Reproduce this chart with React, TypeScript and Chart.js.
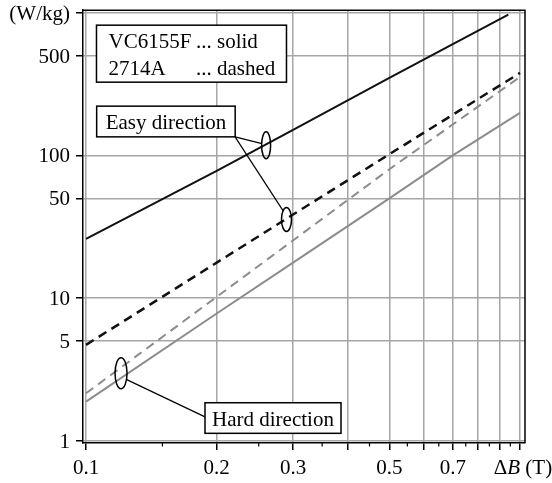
import { useEffect, useRef } from 'react';
import { Chart, registerables } from 'chart.js';

Chart.register(...registerables);

// Core loss (W/kg) against flux swing ΔB (T), log-log.
// Easy direction, VC6155F (solid black)
const easyVcB = [0.1, 0.2, 0.3, 0.5, 0.94];
const easyVcLoss = [26, 78, 151, 350, 970];
// Easy direction, 2714A (dashed black)
const easy2714B = [0.1, 0.3, 0.5, 1.0];
const easy2714Loss = [4.7, 38.5, 102, 379];
// Hard direction, 2714A (dashed grey)
const hard2714B = [0.1, 0.2, 0.5, 1.0];
const hard2714Loss = [2.15, 10.2, 80, 355];
// Hard direction, VC6155F (solid grey)
const hardVcB = [0.1, 0.2, 0.3, 0.5, 0.7, 1.0];
const hardVcLoss = [1.88, 7.8, 17.7, 50, 100, 199];

const xTickValues = [0.1, 0.2, 0.3, 0.4, 0.5, 0.6, 0.7, 0.8, 0.9, 1.0];
const xTickLabels = ['0.1', '0.2', '0.3', '', '0.5', '', '0.7', '', '', ''];
const xMinorTicks = [0.15, 0.25, 0.35, 0.45, 0.55, 0.65, 0.75, 0.85, 0.95];
const yTickValues = [1, 5, 10, 50, 100, 500, 1000];
const yTickLabels = ['1', '5', '10', '50', '100', '500', '(W/kg)'];

const FONT = '21px "Liberation Serif", "Times New Roman", serif';
const ITALIC = 'italic 21px "Liberation Serif", "Times New Roman", serif';
const GREY = '#8c8c8c';
const GRID = '#a6a6a6';

const toPoints = (xs: number[], ys: number[]) => xs.map((x, i) => ({ x, y: ys[i] }));

// Callout boxes: top-left corner in data units, size and text offsets in px
const boxes = [
  {
    x: 0.1057, y: 819, w: 190, h: 57,
    texts: [
      { dx: 12, dy: 23, t: 'VC6155F' }, { dx: 99.5, dy: 23, t: '... solid' },
      { dx: 12, dy: 50, t: '2714A' }, { dx: 99.5, dy: 50, t: '... dashed' },
    ],
  },
  { x: 0.1058, y: 221.6, w: 138.5, h: 30.7, texts: [{ dx: 9, dy: 22.5, t: 'Easy direction' }] },
  { x: 0.188, y: 1.846, w: 136, h: 30.6, texts: [{ dx: 7, dy: 23, t: 'Hard direction' }] },
];

// Ellipses ringing the curves, centre in data units, radii in px
const rings = [
  { x: 0.26, y: 118, rx: 4.5, ry: 13.5 },
  { x: 0.2897, y: 35.6, rx: 5, ry: 12 },
  { x: 0.1204, y: 2.97, rx: 6, ry: 15.5 },
];

// Leader lines from callouts to the rings, in data units
const leaders = [
  [[0.2205, 135], [0.2543, 121]],
  [[0.2205, 135], [0.2849, 40.7]],
  [[0.1241, 2.68], [0.188, 1.47]],
];

const decorations = {
  id: 'decorations',
  afterDraw(chart: any) {
    const ctx: CanvasRenderingContext2D = chart.ctx;
    const xs = chart.scales.x;
    const ys = chart.scales.y;
    const a = chart.chartArea;
    const px = (v: number) => xs.getPixelForValue(v);
    const py = (v: number) => ys.getPixelForValue(v);
    ctx.save();

    // top and right frame
    ctx.strokeStyle = '#000';
    ctx.lineWidth = 1.5;
    ctx.beginPath();
    ctx.moveTo(a.left, a.top);
    ctx.lineTo(a.right, a.top);
    ctx.lineTo(a.right, a.bottom);
    ctx.stroke();

    // minor x ticks
    ctx.lineWidth = 1.2;
    xMinorTicks.forEach((v) => {
      const x = px(v);
      ctx.beginPath();
      ctx.moveTo(x, a.bottom);
      ctx.lineTo(x, a.bottom + 3.5);
      ctx.stroke();
    });

    // tick labels
    ctx.fillStyle = '#000';
    ctx.font = FONT;
    ctx.textBaseline = 'alphabetic';
    ctx.textAlign = 'center';
    xTickValues.forEach((v, i) => {
      if (xTickLabels[i]) ctx.fillText(xTickLabels[i], px(v), a.bottom + 30.5);
    });
    ctx.textAlign = 'right';
    yTickValues.forEach((v, i) => {
      ctx.fillText(yTickLabels[i], a.left - 13, py(v) + 7);
    });

    // ΔB (T) axis label at the end of the x axis
    ctx.textAlign = 'left';
    const parts = [
      { t: 'Δ', f: FONT },
      { t: 'B', f: ITALIC },
      { t: ' (T)', f: FONT },
    ];
    let total = 0;
    parts.forEach((p) => { ctx.font = p.f; total += ctx.measureText(p.t).width; });
    let cx = px(1.0) - total / 2 + 3;
    parts.forEach((p) => {
      ctx.font = p.f;
      ctx.fillText(p.t, cx, a.bottom + 30.5);
      cx += ctx.measureText(p.t).width;
    });

    // leader lines
    ctx.lineWidth = 1.2;
    leaders.forEach(([p0, p1]) => {
      ctx.beginPath();
      ctx.moveTo(px(p0[0]), py(p0[1]));
      ctx.lineTo(px(p1[0]), py(p1[1]));
      ctx.stroke();
    });

    // rings
    ctx.lineWidth = 1.5;
    rings.forEach((r) => {
      ctx.beginPath();
      ctx.ellipse(px(r.x), py(r.y), r.rx, r.ry, 0, 0, Math.PI * 2);
      ctx.stroke();
    });

    // callout boxes
    ctx.font = FONT;
    ctx.textAlign = 'left';
    boxes.forEach((b) => {
      const x0 = px(b.x);
      const y0 = py(b.y);
      ctx.fillStyle = '#fff';
      ctx.fillRect(x0, y0, b.w, b.h);
      ctx.lineWidth = 1.5;
      ctx.strokeStyle = '#000';
      ctx.strokeRect(x0, y0, b.w, b.h);
      ctx.fillStyle = '#000';
      b.texts.forEach((t) => ctx.fillText(t.t, x0 + t.dx, y0 + t.dy));
    });

    ctx.restore();
  },
};

export default function App() {
  const canvasRef = useRef<HTMLCanvasElement | null>(null);

  useEffect(() => {
    const canvas = canvasRef.current;
    if (!canvas) return;
    const chart = new Chart(canvas, {
      type: 'line',
      data: {
        datasets: [
          {
            label: 'VC6155F easy',
            data: toPoints(easyVcB, easyVcLoss),
            borderColor: '#111',
            borderWidth: 2,
            pointRadius: 0,
          },
          {
            label: '2714A easy',
            data: toPoints(easy2714B, easy2714Loss),
            borderColor: '#111',
            borderWidth: 2.5,
            borderDash: [9, 6],
            pointRadius: 0,
          },
          {
            label: '2714A hard',
            data: toPoints(hard2714B, hard2714Loss),
            borderColor: GREY,
            borderWidth: 2,
            borderDash: [9, 6],
            pointRadius: 0,
          },
          {
            label: 'VC6155F hard',
            data: toPoints(hardVcB, hardVcLoss),
            borderColor: GREY,
            borderWidth: 2,
            pointRadius: 0,
          },
        ],
      },
      options: {
        responsive: false,
        animation: false,
        devicePixelRatio: 1,
        events: [],
        layout: { padding: { top: 10, right: 27, left: 0, bottom: 0 } },
        plugins: { legend: { display: false }, tooltip: { enabled: false } },
        scales: {
          x: {
            type: 'logarithmic',
            min: 0.0984,
            max: 1.027,
            afterBuildTicks: (s: any) => { s.ticks = xTickValues.map((value) => ({ value })); },
            afterFit: (s: any) => { s.height = 40; },
            ticks: { autoSkip: false, maxRotation: 0, minRotation: 0, callback: () => '' },
            grid: { color: GRID, lineWidth: 1.5, tickColor: '#000', tickLength: 7, tickWidth: 1.5 },
            border: { display: true, color: '#000', width: 1.5 },
          },
          y: {
            type: 'logarithmic',
            min: 0.9636,
            max: 1043,
            afterBuildTicks: (s: any) => { s.ticks = yTickValues.map((value) => ({ value })); },
            afterFit: (s: any) => { s.width = 83; },
            ticks: { autoSkip: false, callback: () => '' },
            grid: { color: GRID, lineWidth: 1.5, tickColor: '#000', tickLength: 7, tickWidth: 1.5 },
            border: { display: true, color: '#000', width: 1.5 },
          },
        },
      },
      plugins: [decorations],
    });
    return () => chart.destroy();
  }, []);

  return (
    <div style={{ position: 'fixed', left: 0, top: 0, width: 552, height: 483, background: '#fff' }}>
      <canvas ref={canvasRef} width={552} height={483} style={{ display: 'block' }} />
    </div>
  );
}
